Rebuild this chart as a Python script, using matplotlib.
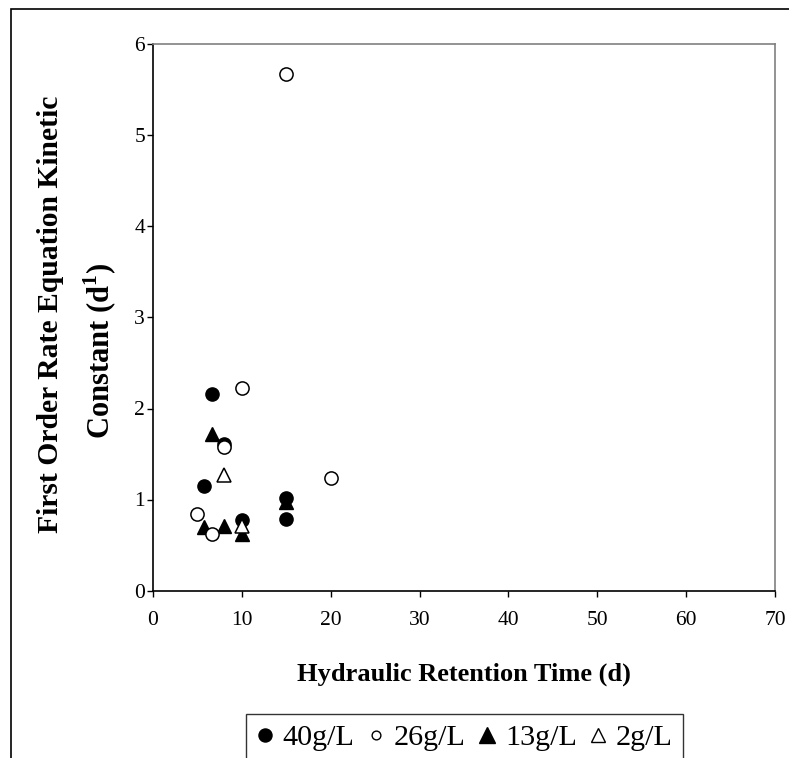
import matplotlib
matplotlib.use("Agg")
import matplotlib.pyplot as plt
from matplotlib.lines import Line2D
from matplotlib.patches import Rectangle

plt.rcParams['font.family'] = ['Liberation Serif', 'DejaVu Serif']
plt.rcParams['mathtext.fontset'] = 'custom'
plt.rcParams['mathtext.rm'] = 'Liberation Serif'
plt.rcParams['mathtext.bf'] = 'Liberation Serif:bold'

# Data (HRT in days, kinetic constant in 1/d)
hrt_40 = [5.7, 6.6, 8, 10, 15, 15]
k_40 = [1.15, 2.16, 1.61, 0.78, 1.02, 0.79]
hrt_26 = [5, 6.6, 8, 10, 15, 20]
k_26 = [0.84, 0.62, 1.58, 2.22, 5.68, 1.24]
hrt_13 = [5.7, 6.6, 8, 10, 15]
k_13 = [0.70, 1.72, 0.71, 0.62, 0.97]
hrt_2 = [8, 10]
k_2 = [1.27, 0.71]

legend_labels = ['40g/L', '26g/L', '13g/L', '2g/L']
x_ticks = [0, 10, 20, 30, 40, 50, 60, 70]
y_ticks = [0, 1, 2, 3, 4, 5, 6]

W, H = 789, 758
fig = plt.figure(figsize=(W / 100, H / 100), dpi=100)

# outer border
fig.patches.append(Rectangle((11 / W, -0.1), 1.2, (1 - 9 / H) + 0.1,
                             transform=fig.transFigure, fill=False,
                             edgecolor='black', linewidth=1.2))

ax = fig.add_axes([153 / W, 1 - 590.5 / H, (775 - 153) / W, (590.5 - 44.5) / H])

ax.plot(hrt_40, k_40, linestyle='none', marker='o', ms=9.5, mfc='black', mec='black', zorder=3)
ax.plot(hrt_13, k_13, linestyle='none', marker='^', ms=10, mfc='black', mec='black', zorder=4)
ax.plot(hrt_26, k_26, linestyle='none', marker='o', ms=9.5, mfc='white', mec='black', mew=1.1, zorder=5)
ax.plot(hrt_2, k_2, linestyle='none', marker='^', ms=10, mfc='white', mec='black', mew=1.1, zorder=6)

ax.set_xlim(0, 70)
ax.set_ylim(0, 6)
ax.set_xticks(x_ticks)
ax.set_yticks(y_ticks)
ax.tick_params(axis='both', direction='out', length=4.3, width=1, labelsize=15.5, color='black')
ax.tick_params(axis='x', pad=10.5)
ax.tick_params(axis='y', pad=1.5)

for s in ['left', 'bottom']:
    ax.spines[s].set_color('black')
    ax.spines[s].set_linewidth(1.2)
for s in ['top', 'right']:
    ax.spines[s].set_color('#808080')
    ax.spines[s].set_linewidth(1.2)

fig.text(464 / W, 1 - 674 / H, 'Hydraulic Retention Time (d)', fontsize=19,
         fontweight='bold', ha='center', va='center')
fig.text(51 / W, 1 - 314 / H, 'First Order Rate Equation Kinetic', fontsize=21.3,
         fontweight='bold', rotation=90, ha='center', va='center')
fig.text(100 / W, 1 - 351 / H, r'Constant (d$^{\mathbf{1}}$)', fontsize=22,
         fontweight='bold', rotation=90, ha='center', va='center')

handles = [
    Line2D([], [], linestyle='none', marker='o', ms=9.4, mfc='black', mec='black'),
    Line2D([], [], linestyle='none', marker='o', ms=6.3, mfc='white', mec='black', mew=1.0),
    Line2D([], [], linestyle='none', marker='^', ms=11.5, mfc='black', mec='black'),
    Line2D([], [], linestyle='none', marker='^', ms=9.4, mfc='white', mec='black', mew=1.0),
]
leg = fig.legend(handles, legend_labels, ncol=4, loc='upper left',
                 bbox_to_anchor=(246 / W, 1 - 714 / H), bbox_transform=fig.transFigure,
                 borderaxespad=0, fontsize=21.7, frameon=True, fancybox=False,
                 edgecolor='black', handlelength=0.6, handletextpad=0.28,
                 columnspacing=0.42, borderpad=0.34)
leg.get_frame().set_linewidth(1.0)

fig.savefig('out.png', dpi=100)
